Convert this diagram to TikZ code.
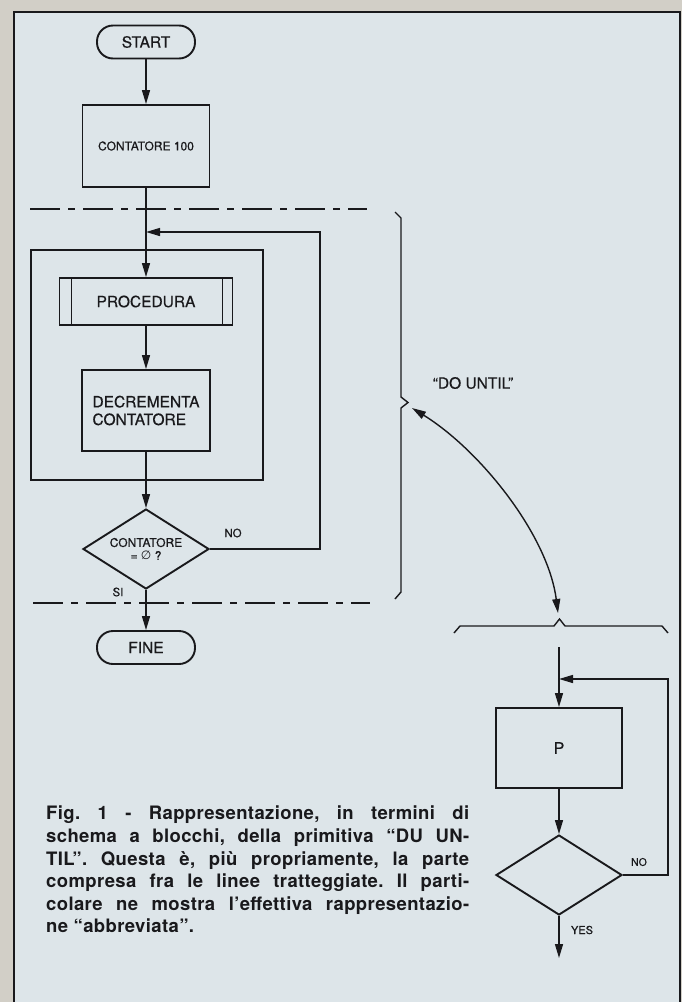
\documentclass[tikz,border=0pt]{standalone}
\usepackage{fontspec}
\setmainfont{TeX Gyre Heros}[FakeBold=0.5]
\newfontfamily\capfont[LetterSpace=2]{TeX Gyre Heros}
\newfontfamily\dejavu{DejaVu Sans}
\usetikzlibrary{arrows.meta,shapes.geometric}
\definecolor{outside}{RGB}{210,207,199}
\definecolor{panel}{RGB}{221,229,233}
\definecolor{ink}{RGB}{25,25,28}
\frenchspacing
\begin{document}
\begin{tikzpicture}[x=1pt,y=-1pt,
  every node/.style={text=ink},
  box/.style={draw=ink, line width=1.9pt, rectangle, inner sep=0pt},
  term/.style={draw=ink, line width=1.9pt, rectangle, rounded corners=16pt, inner sep=0pt, minimum width=98pt, minimum height=33pt, font=\fontsize{15.5}{18}\selectfont},
  decision/.style={draw=ink, line width=1.9pt, diamond, inner sep=0pt, aspect=1.575, minimum width=126pt, minimum height=80pt, align=center},
  flow/.style={draw=ink, line width=1.4pt, -{Triangle[length=14pt,width=8pt]}},
  wire/.style={draw=ink, line width=1.4pt},
  cutline/.style={draw=ink, line width=1.5pt, dash pattern=on 30pt off 8pt on 7pt off 8pt},
  lbl/.style={font=\fontsize{11.5}{13}\selectfont, inner sep=0pt},
]
\useasboundingbox (0,0) rectangle (682,1002);
\fill[outside] (0,0) rectangle (682,1002);
\fill[panel] (14,12) rectangle (680,1002);
\draw[ink, line width=2pt] (14,1002) -- (14,12) -- (680,12) -- (680,1002);

% left flowchart
\node[term] (start) at (146,42) {START};
\node[box, minimum width=127pt, minimum height=82pt, font=\fontsize{12}{14}\selectfont] (cont) at (146,146) {CONTATORE 100};
\coordinate (join) at (146,232);
\node[draw=ink, line width=1.4pt, minimum width=232pt, minimum height=230pt, inner sep=0pt] (body) at (147,365) {};
\node[box, minimum width=173pt, minimum height=47pt, font=\fontsize{15.5}{18}\selectfont] (proc) at (146,301.5) {PROCEDURA};
\draw[ink, line width=1.3pt] ([xshift=13pt]proc.north west) -- ([xshift=13pt]proc.south west);
\draw[ink, line width=1.3pt] ([xshift=-11pt]proc.north east) -- ([xshift=-11pt]proc.south east);
\node[box, minimum width=128pt, minimum height=81pt, font=\fontsize{15.5}{17.7}\selectfont, align=left] (decr) at (146,410.5) {DECREMENTA\\CONTATORE};
\node[decision, font=\fontsize{12}{13}\selectfont] (test) at (146,549) {CONTATORE\\= {\dejavu ∅} ?};
\node[term] (fine) at (146,647.5) {FINE};
\coordinate (loop) at (320,232);

\draw[flow] (start) -- (cont);
\draw[flow] (cont) -- (proc);
\draw[flow] (proc) -- (decr);
\draw[flow] (decr) -- (test);
\draw[flow] (test) -- (fine);
\draw[flow] (test.east) -| (loop) -- (join);
\node[lbl] (nolbl) at (233,533) {NO};
\node[lbl] (silbl) at (118,592) {SI};

\draw[cutline] (30,209) -- (367,209);
\draw[cutline] (33,603) -- (370,603);

% braces and link
\draw[wire] (395,212) -- (401,218) -- (401,397) -- (408,402.5) -- (401,408) -- (401,592) -- (395,599);
\draw[wire] (454,633) -- (460,626) -- (554,626) -- (559.5,619) -- (565,626) -- (662,626) -- (668,633);
\coordinate (bracetip) at (412,408);
\coordinate (hbracetip) at (558,613);
\draw[ink, line width=1.4pt, {Triangle[length=14pt,width=8pt]}-{Triangle[length=14pt,width=8pt]}] (bracetip) .. controls (480,450) and (548,535) .. (hbracetip);
\node[font=\fontsize{15.5}{18}\selectfont] (dolabel) at (473,383) {“DO UNTIL”};

% right flowchart
\coordinate (pin) at (559,647);
\coordinate (pjoin) at (559,679);
\coordinate (ploop) at (668,679);
\coordinate (pout) at (559,958);
\node[box, minimum width=126pt, minimum height=80pt, font=\fontsize{16}{18}\selectfont] (pbox) at (559,748) {P};
\node[decision] (ptest) at (559,875) {};
\draw[flow] (pin) -- (pbox);
\draw[flow] (pbox) -- (ptest);
\draw[flow] (ptest) -- (pout);
\draw[flow] (ptest.east) -| (ploop) -- (pjoin);
\node[lbl, font=\fontsize{10.5}{12}\selectfont] (pno) at (639,862) {NO};
\node[lbl, font=\fontsize{11}{12}\selectfont] (pyes) at (582,930) {YES};

% caption
\node[anchor=north west, inner sep=0pt, align=left, font=\capfont\bfseries\fontsize{18.5}{22.6}\selectfont] (caption) at (46,806) {%
\makebox[423pt][s]{Fig. 1 - Rappresentazione, in termini di}\\
\makebox[423pt][s]{schema a blocchi, della primitiva “DU UN-}\\
\makebox[423pt][s]{TIL”. Questa è, più propriamente, la parte}\\
\makebox[423pt][s]{compresa fra le linee tratteggiate. Il parti-}\\
\makebox[423pt][s]{colare ne mostra l’effettiva rappresentazio-}\\
ne “abbreviata”.};
\end{tikzpicture}
\end{document}
